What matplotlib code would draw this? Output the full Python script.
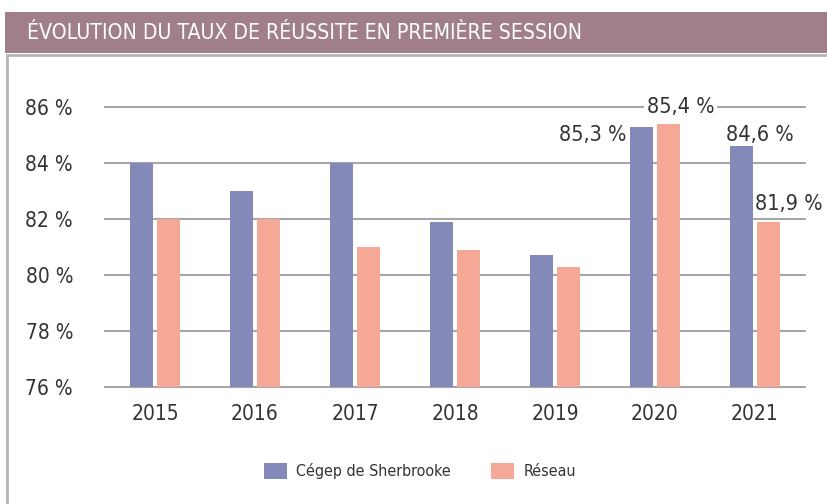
import matplotlib
import matplotlib.pyplot as plt
import numpy as np
from matplotlib.patches import Rectangle

matplotlib.use("Agg")

plt.rcParams["font.family"] = ["DejaVu Sans"]
plt.rcParams["font.stretch"] = "condensed"

years = ["2015", "2016", "2017", "2018", "2019", "2020", "2021"]
cegep = [84.0, 83.0, 84.0, 81.9, 80.7, 85.3, 84.6]
reseau = [82.0, 82.0, 81.0, 80.9, 80.3, 85.4, 81.9]
y_ticks = [76, 78, 80, 82, 84, 86]
title = "ÉVOLUTION DU TAUX DE RÉUSSITE EN PREMIÈRE SESSION"

blue = "#8389b8"
salmon = "#f5a896"
grid_color = "#a6a6a6"
text_color = "#333333"

fig = plt.figure(figsize=(8.27, 5.04), dpi=100)

# title band and frame
fig.patches.append(Rectangle((5 / 827, 1 - 53 / 504), 1, 41 / 504, transform=fig.transFigure,
                             facecolor="#a07f8a", edgecolor="none"))
fig.patches.append(Rectangle((7 / 827, -0.1), 1, 1.1 - 55 / 504, transform=fig.transFigure,
                             facecolor="none", edgecolor="#b5b5b5", linewidth=2))
fig.text(27 / 827, 1 - 33 / 504, title, color="white", fontsize=15.2, va="center", ha="left")

ax = fig.add_axes([105 / 827, 117 / 504, 700 / 827, 280 / 504])
x = np.arange(len(years))
w = 0.23
ax.bar(x - 0.135, cegep, w, color=blue, label="Cégep de Sherbrooke", zorder=2)
ax.bar(x + 0.135, reseau, w, color=salmon, label="Réseau", zorder=2)

ax.set_ylim(76, 86)
ax.set_xlim(-0.5, len(years) - 0.5)
ax.set_yticks(y_ticks)
ax.set_yticklabels([f"{t} %" for t in y_ticks])
ax.set_xticks(x)
ax.set_xticklabels(years)
ax.tick_params(length=0, labelsize=15, labelcolor=text_color)
ax.tick_params(axis="y", pad=23)
ax.tick_params(axis="x", pad=12)
ax.grid(axis="y", color=grid_color, linewidth=1.5, zorder=1)
for line in ax.get_ygridlines():
    line.set_clip_on(False)
for s in ax.spines.values():
    s.set_visible(False)
ax.set_axisbelow(True)


def fmt(v):
    return f"{v:.1f} %".replace(".", ",")


lab = dict(fontsize=15.5, color=text_color, textcoords="offset pixels", annotation_clip=False)
ax.annotate(fmt(cegep[5]), (5 - 0.135 - w / 2, cegep[5]), xytext=(-4, -8), ha="right", va="center", **lab)
ax.annotate(fmt(reseau[5]), (5 + 0.135, reseau[5]), xytext=(12, 17), ha="center", va="center",
            bbox=dict(facecolor="white", edgecolor="none", pad=2), **lab)
ax.annotate(fmt(cegep[6]), (6 - 0.135, cegep[6]), xytext=(18, 11), ha="center", va="center", **lab)
ax.annotate(fmt(reseau[6]), (6 + 0.135, reseau[6]), xytext=(20, 18), ha="center", va="center", **lab)

fig.legend(loc="center", bbox_to_anchor=(420 / 827, 1 - 471 / 504), ncol=2, frameon=False,
           fontsize=11.5, handlelength=1.45, handleheight=1.2, columnspacing=2.5, handletextpad=0.6,
           labelcolor=text_color)

fig.savefig("out.png", dpi=100)
